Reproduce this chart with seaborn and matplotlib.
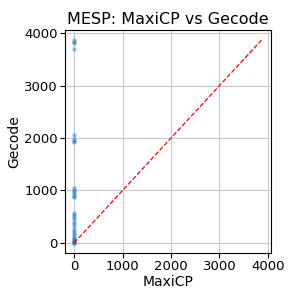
import seaborn as sns
import matplotlib.pyplot as plt
import pandas as pd

# solve times per instance (MaxiCP near zero, Gecode spread out)
maxicp = [2, 3, 1, 4, 2, 5, 3, 2, 1, 3, 2, 4, 2, 3, 1, 2, 3, 2, 4, 1, 2, 3, 2, 1, 2, 3, 1, 2, 1, 2, 1, 1, 1]
gecode = [3870, 3840, 3810, 3700, 2060, 1980, 1950, 1930, 1040, 1000, 970, 940, 900, 870,
          560, 530, 500, 460, 400, 350, 300, 250, 200, 170, 130, 100, 70, 50, 30, 20, 10, 5, 2]

df = pd.DataFrame({'MaxiCP': maxicp, 'Gecode': gecode})

fig = plt.figure(figsize=(2.99, 2.99), dpi=100)
ax = fig.add_axes([0.217, 0.154, 0.689, 0.746])

sns.scatterplot(data=df, x='MaxiCP', y='Gecode', ax=ax, s=10, alpha=0.45,
                color='C0', linewidth=0)
lim = max(df['MaxiCP'].max(), df['Gecode'].max())
ax.plot([0, lim], [0, lim], 'r--', linewidth=0.9)

ax.grid(True, color='#c8c8c8', linewidth=0.8)
ax.set_axisbelow(True)
ax.set_title('MESP: MaxiCP vs Gecode', fontsize=11.5, pad=4)
ax.set_xlabel('MaxiCP', fontsize=10, labelpad=1.5)
ax.set_ylabel('Gecode', fontsize=10, labelpad=2)
ax.tick_params(labelsize=9.5, length=3.5, pad=1.5)
ax.set_xticks([0, 1000, 2000, 3000, 4000])
ax.set_yticks([0, 1000, 2000, 3000, 4000])

fig.savefig('out.png', dpi=100)
